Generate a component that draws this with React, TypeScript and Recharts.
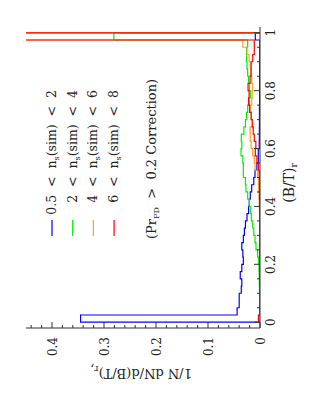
import React from 'react';
import { ComposedChart, Line, XAxis, YAxis } from 'recharts';

// Bin edges of the (B/T)_r histogram
const binEdges = [
  0, 0.025, 0.05, 0.075, 0.1, 0.125, 0.15, 0.175, 0.2, 0.225,
  0.25, 0.275, 0.3, 0.325, 0.35, 0.375, 0.4, 0.425, 0.45, 0.475,
  0.5, 0.525, 0.55, 0.575, 0.6, 0.625, 0.65, 0.675, 0.7, 0.725,
  0.75, 0.775, 0.8, 0.825, 0.85, 0.875, 0.9, 0.925, 0.95, 0.975, 1.0,
];

// 0.5 < n_s(sim) < 2
const blueVals = [
  0.345, 0.044, 0.040, 0.040, 0.036, 0.035, 0.038, 0.035, 0.032, 0.033,
  0.035, 0.032, 0.030, 0.028, 0.025, 0.022, 0.0205, 0.0187, 0.016, 0.012,
  0.0096, 0.006, 0.0033, 0.0033, 0.0015, 0.0013, 0.0012, 0.001, 0.001, 0.001,
  0.0008, 0.0008, 0.0006, 0.0006, 0.0005, 0.0005, 0.0004, 0.0004, 0.0003, 0.009,
];
// 2 < n_s(sim) < 4
const greenVals = [
  0.001, 0.0005, 0.0005, 0.0008, 0.001, 0.0013, 0.0015, 0.002, 0.003, 0.0045,
  0.0077, 0.0096, 0.012, 0.014, 0.0167, 0.0187, 0.0205, 0.0237, 0.027, 0.028,
  0.032, 0.032, 0.033, 0.0365, 0.035, 0.036, 0.031, 0.028, 0.0257, 0.0237,
  0.0205, 0.0187, 0.0205, 0.022, 0.0237, 0.025, 0.0257, 0.026, 0.0237, 0.281,
];
// 4 < n_s(sim) < 6
const orangeVals = [
  0.001, 0.0005, 0.0004, 0.0006, 0.0005, 0.0004, 0.0005, 0.0006, 0.0005, 0.0004,
  0.0005, 0.0006, 0.0005, 0.0006, 0.0008, 0.001, 0.0015, 0.002, 0.0025, 0.003,
  0.0045, 0.0096, 0.011, 0.014, 0.017, 0.0187, 0.019, 0.014, 0.017, 0.0187,
  0.016, 0.015, 0.014, 0.016, 0.018, 0.0187, 0.021, 0.025, 0.033, 0.55,
];
// 6 < n_s(sim) < 8
const redVals = [
  0.003, 0.0006, 0.0004, 0.0005, 0.0003, 0.0004, 0.0005, 0.0004, 0.0005, 0.0006,
  0.0004, 0.0005, 0.0006, 0.0005, 0.0006, 0.0007, 0.0008, 0.0009, 0.001, 0.001,
  0.0015, 0.003, 0.006, 0.009, 0.008, 0.011, 0.013, 0.015, 0.017, 0.02,
  0.022, 0.021, 0.023, 0.019, 0.017, 0.017, 0.014, 0.011, 0.011, 0.65,
];

const xTicks = [0, 0.05, 0.1, 0.15, 0.2, 0.25, 0.3, 0.35, 0.4, 0.45, 0.5, 0.55, 0.6, 0.65, 0.7, 0.75, 0.8, 0.85, 0.9, 0.95, 1.0];
const yTicks = [0, 0.02, 0.04, 0.06, 0.08, 0.1, 0.12, 0.14, 0.16, 0.18, 0.2, 0.22, 0.24, 0.26, 0.28, 0.3, 0.32, 0.34, 0.36, 0.38, 0.4, 0.42, 0.44];

const legendLow = ['0.5', '2', '4', '6'];
const legendHigh = ['2', '4', '6', '8'];
const colors = ['#0000ff', '#00ee00', '#ffa020', '#ff0000'];

const FONT = 'DejaVu Serif';
const FRAME = '#333';

function toSteps(values: number[]) {
  const pts: { bt: number; v: number }[] = [{ bt: binEdges[0], v: 0 }];
  values.forEach((v, i) => pts.push({ bt: binEdges[i], v }));
  pts.push({ bt: binEdges[binEdges.length - 1], v: 0 });
  return pts;
}

const series = [blueVals, greenVals, orangeVals, redVals].map(toSteps);

const isMajorX = (v: number) => Math.abs(v * 5 - Math.round(v * 5)) < 1e-6;
const isMajorY = (v: number) => Math.abs(v * 10 - Math.round(v * 10)) < 1e-6;
const fmt = (v: number) => String(Math.round(v * 10) / 10);

const BottomTick = (p: any) => {
  const v = p.payload.value;
  const major = isMajorX(v);
  return (
    <g>
      <line x1={p.x} y1={p.y} x2={p.x} y2={p.y - (major ? 6 : 3)} stroke={FRAME} strokeWidth={1} />
      {major && (
        <text x={p.x} y={p.y + 15} textAnchor="middle" fontFamily={FONT} fontSize={12} fill="#222">
          {fmt(v)}
        </text>
      )}
    </g>
  );
};
const TopTick = (p: any) => {
  const major = isMajorX(p.payload.value);
  return <line x1={p.x} y1={p.y} x2={p.x} y2={p.y + (major ? 6 : 3)} stroke={FRAME} strokeWidth={1} />;
};
const LeftTick = (p: any) => {
  const v = p.payload.value;
  const major = isMajorY(v);
  return (
    <g>
      <line x1={p.x} y1={p.y} x2={p.x + (major ? 6 : 3)} y2={p.y} stroke={FRAME} strokeWidth={1} />
      {major && (
        <text x={p.x - 9} y={p.y + 4.5} textAnchor="end" fontFamily={FONT} fontSize={12} fill="#222">
          {fmt(v)}
        </text>
      )}
    </g>
  );
};
const RightTick = (p: any) => {
  const major = isMajorY(p.payload.value);
  return <line x1={p.x} y1={p.y} x2={p.x - (major ? 6 : 3)} y2={p.y} stroke={FRAME} strokeWidth={1} />;
};

const W = 407;
const H = 315;

export default function App() {
  return (
    <div
      style={{
        position: 'absolute',
        left: (315 - W) / 2,
        top: (407 - H) / 2,
        width: W,
        height: H,
        transform: 'rotate(-90deg)',
        background: '#fff',
      }}
    >
      <ComposedChart width={W} height={H} margin={{ top: 26, right: 27, bottom: 0, left: 0 }}>
        <XAxis
          xAxisId="b"
          type="number"
          dataKey="bt"
          domain={[-0.02, 1.02]}
          ticks={xTicks}
          interval={0}
          height={55}
          tickSize={0}
          tickMargin={0}
          tickLine={false}
          axisLine={{ stroke: FRAME }}
          tick={BottomTick}
          allowDataOverflow
        />
        <XAxis
          xAxisId="t"
          orientation="top"
          type="number"
          dataKey="bt"
          domain={[-0.02, 1.02]}
          ticks={xTicks}
          interval={0}
          height={0}
          tickSize={0}
          tickMargin={0}
          tickLine={false}
          axisLine={{ stroke: FRAME }}
          tick={TopTick}
          allowDataOverflow
        />
        <YAxis
          yAxisId="l"
          type="number"
          domain={[0, 0.45]}
          ticks={yTicks}
          interval={0}
          width={79}
          tickSize={0}
          tickMargin={0}
          tickLine={false}
          axisLine={{ stroke: FRAME }}
          tick={LeftTick}
          allowDataOverflow
        />
        <YAxis
          yAxisId="r"
          orientation="right"
          type="number"
          domain={[0, 0.45]}
          ticks={yTicks}
          interval={0}
          width={0}
          tickSize={0}
          tickMargin={0}
          tickLine={false}
          axisLine={{ stroke: FRAME }}
          tick={RightTick}
          allowDataOverflow
        />
        {series.map((d, i) => (
          <Line
            key={i}
            data={d}
            xAxisId="b"
            yAxisId="l"
            dataKey="v"
            type="stepAfter"
            stroke={colors[i]}
            strokeWidth={1.2}
            dot={false}
            activeDot={false}
            isAnimationActive={false}
          />
        ))}
      </ComposedChart>
      <svg
        width={W}
        height={H}
        style={{ position: 'absolute', left: 0, top: 0, pointerEvents: 'none' }}
        fontFamily={FONT}
      >
        {legendLow.map((lo, i) => {
          const cy = 52 + i * 20.7;
          return (
            <g key={i}>
              <line x1={171} y1={cy} x2={187} y2={cy} stroke={colors[i]} strokeWidth={1.2} />
              <text
                x={317}
                y={cy + 4}
                textAnchor="end"
                fontSize={12.5}
                fill="#222"
                xmlSpace="preserve"
                style={{ whiteSpace: 'pre' }}
              >
                {`${lo}  <  n`}
                <tspan fontSize={8} dy={3}>s</tspan>
                <tspan dy={-3}>{`(sim)  <  ${legendHigh[i]}`}</tspan>
              </text>
            </g>
          );
        })}
        <text x={168} y={156} fontSize={13} fill="#222" xmlSpace="preserve" style={{ whiteSpace: 'pre' }}>
          {'(Pr'}
          <tspan fontSize={8} dy={3}>FD</tspan>
          <tspan dy={-3}>{'  >  0.2 Correction)'}</tspan>
        </text>
        <text x={224} y={294} textAnchor="middle" fontSize={14} fill="#222">
          {'(B/T)'}
          <tspan fontSize={9} dy={3}>r</tspan>
        </text>
        <text
          x={38}
          y={141}
          textAnchor="middle"
          fontSize={13}
          fill="#222"
          transform="rotate(-90, 38, 141)"
        >
          {'1/N dN/d(B/T)'}
          <tspan fontSize={9} dy={3}>r</tspan>
          <tspan>,</tspan>
        </text>
      </svg>
    </div>
  );
}
